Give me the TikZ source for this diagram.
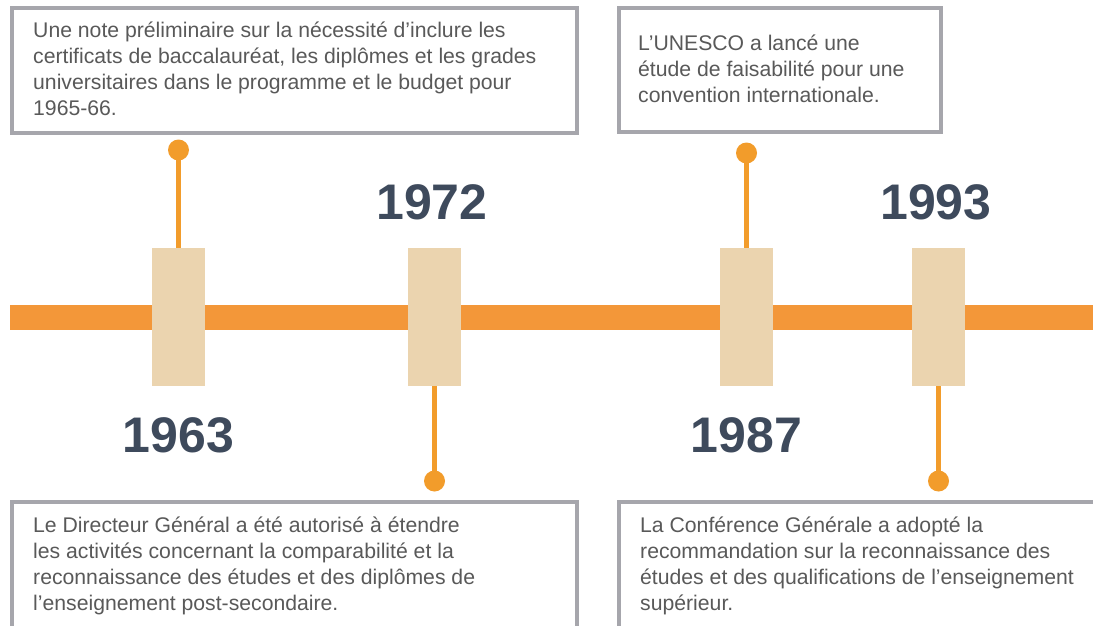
\documentclass[tikz,border=0pt]{standalone}
\usepackage{fontspec}
\setmainfont{Liberation Sans}
\definecolor{barorange}{HTML}{F39739}
\definecolor{stemorange}{HTML}{F29C2B}
\definecolor{beige}{HTML}{EBD4AF}
\definecolor{yearcol}{HTML}{3E4A5C}
\definecolor{bordergray}{HTML}{A6A6AC}
\definecolor{textgray}{HTML}{595959}
\tikzset{
  tick/.style={fill=beige, draw=none, minimum width=53pt, minimum height=138pt, inner sep=0pt},
  dot/.style={circle, fill=stemorange, draw=none, minimum size=21pt, inner sep=0pt},
  stem/.style={draw=stemorange, line width=4.5pt},
  frame/.style={draw=bordergray, line width=4pt, fill=white},
  txt/.style={text=textgray, font=\fontsize{21.2}{26}\selectfont, align=left, inner sep=0pt, anchor=north west},
  year/.style={text=yearcol, font=\fontsize{50}{60}\selectfont\bfseries, inner sep=0pt, anchor=base}
}
\begin{document}
\begin{tikzpicture}[x=1pt,y=-1pt]
\clip (0,0) rectangle (1093,626);
\fill[white] (0,0) rectangle (1093,626);
% text frames
\draw[frame] (12,8) rectangle (577,133);
\draw[frame] (619,8) rectangle (941,132);
\draw[frame] (12,502) rectangle (577,700);
\draw[frame] (619,502) rectangle (1200,700);
% bar
\fill[barorange] (10,305) rectangle (1093,330);
% ticks
\node[tick] (b1) at (178.5,317) {};
\node[tick] (b2) at (434.5,317) {};
\node[tick] (b3) at (746.5,317) {};
\node[tick] (b4) at (938.5,317) {};
% dots
\node[dot] (d1) at (178.5,150) {};
\node[dot] (d2) at (434.5,481) {};
\node[dot] (d3) at (746.5,153) {};
\node[dot] (d4) at (938.5,481) {};
% stems
\draw[stem] (d1.center) -- (b1.north);
\draw[stem] (b2.south) -- (d2.center);
\draw[stem] (d3.center) -- (b3.north);
\draw[stem] (b4.south) -- (d4.center);
% years
\node[year] (y1) at (178.5,452) {1963};
\node[year] (y2) at (432,219) {1972};
\node[year] (y3) at (746.5,452) {1987};
\node[year] (y4) at (936,219) {1993};
% texts
\node[txt] (t1) at (33,17) {\rule{0pt}{20pt}Une note préliminaire sur la nécessité d’inclure les\\certificats de baccalauréat, les diplômes et les grades\\universitaires dans le programme et le budget pour\\1965-66.};
\node[txt] (t2) at (638,30) {\rule{0pt}{20pt}L’UNESCO a lancé une\\étude de faisabilité pour une\\convention internationale.};
\node[txt] (t3) at (33,512) {\rule{0pt}{20pt}Le Directeur Général a été autorisé à étendre\\les activités concernant la comparabilité et la\\reconnaissance des études et des diplômes de\\l’enseignement post-secondaire.};
\node[txt] (t4) at (640,512) {\rule{0pt}{20pt}La Conférence Générale a adopté la\\recommandation sur la reconnaissance des\\études et des qualifications de l’enseignement\\supérieur.};
\end{tikzpicture}
\end{document}
